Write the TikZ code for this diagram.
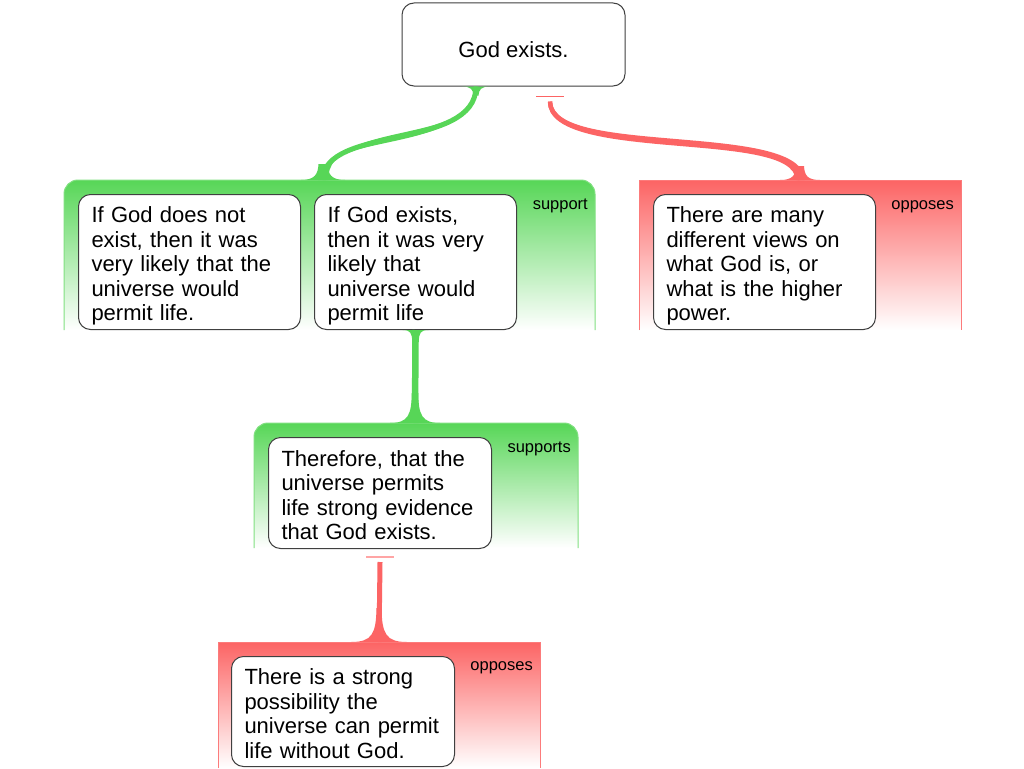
\documentclass[tikz,border=0pt]{standalone}
\usepackage{fontspec}
\setmainfont{Liberation Sans}

\definecolor{supgreen}{RGB}{87,214,87}
\definecolor{oppred}{RGB}{252,100,100}
\definecolor{barred}{RGB}{255,165,165}

\tikzset{
    claim/.style={draw=black!75, line width=1pt, fill=white, rounded corners=12pt,
        anchor=north west, align=left, inner xsep=13pt, inner ysep=0pt,
        font=\fontsize{22}{24.5}\selectfont,
        execute at begin node={\rule{0pt}{25.5pt}},
        execute at end node={\rule[-6pt]{0pt}{0pt}}},
    topclaim/.style={draw=black!75, line width=1pt, fill=white, rounded corners=12pt,
        font=\fontsize{22}{24.5}\selectfont, text height=25pt, text depth=0pt},
    tag/.style={anchor=base east, inner sep=0pt, font=\fontsize{16.5}{18}\selectfont},
    supband/.style={draw=supgreen!75, line width=1pt, top color=supgreen, bottom color=white, rounded corners=14pt},
    oppband/.style={draw=oppred!85, line width=1pt, top color=oppred, bottom color=white},
    supline/.style={draw=supgreen, line width=6.5pt},
    oppline/.style={draw=oppred, line width=5pt},
}

\begin{document}
\begin{tikzpicture}[x=1pt, y=-1pt]
    \path[use as bounding box, fill=white] (0,0) rectangle (1024,768);

    % bands behind the claims
    \draw[supband] (64,330) -- (64,180) -- (595,180) -- (595,330);
    \draw[oppband] (639,330) -- (639,180) -- (961,180) -- (961,330);
    \draw[supband] (254,548) -- (254,423) -- (578,423) -- (578,548);
    \draw[oppband] (218,768) -- (218,642) -- (540,642) -- (540,768);
    \coordinate (supAtop) at (323,180);
    \coordinate (oppAtop) at (800,180);
    \coordinate (supBtop) at (415,423);
    \coordinate (oppBtop) at (379,642);

    \node[tag] (tagA) at (588,209) {support};
    \node[tag] (tagB) at (954,209) {opposes};
    \node[tag] (tagC) at (571,452) {supports};
    \node[tag] (tagD) at (533,670) {opposes};

    % claims
    \node[topclaim, minimum width=223pt, minimum height=83pt] (god) at (513.5,44.5) {God exists.};
    \node[claim, text width=196pt, minimum height=135pt] (notexist) at (78,194)
        {If God does not\\exist, then it was\\very likely that the\\universe would\\permit life.};
    \node[claim, text width=176pt, minimum height=135pt] (exists) at (314,194)
        {If God exists,\\then it was very\\likely that\\universe would\\permit life};
    \node[claim, text width=196pt, minimum height=135pt] (views) at (653,194)
        {There are many\\different views on\\what God is, or\\what is the higher\\power.};
    \node[claim, text width=197pt, minimum height=111pt] (therefore) at (268,437)
        {Therefore, that the\\universe permits\\life strong evidence\\that God exists.};
    \node[claim, text width=197pt, minimum height=110pt] (possible) at (231,656)
        {There is a strong\\possibility the\\universe can permit\\life without God.};

    % god -> first row, widening towards the band
    \draw[supline, line width=5pt] ([xshift=-37.5pt]god.south) .. controls +(0,64) and +(0,-55) .. (supAtop);
    \fill[supgreen] ([xshift=-39.5pt]god.south) .. controls +(-1,69) and +(0,-49) .. ([xshift=-5pt]supAtop)
        -- ([xshift=5pt]supAtop) .. controls +(0,-61) and +(1,59) .. ([xshift=-35.5pt]god.south) -- cycle;
    \fill[supgreen, shift={([xshift=-37.5pt]god.south)}] (-14,0) .. controls (-5,0) and (-3,3) .. (-2.5,9) -- (2.5,9) .. controls (3,3) and (5,0) .. (14,0) -- cycle;
    \fill[supgreen, shift={(supAtop)}] (-22,0) .. controls (-8,0) and (-5,-6) .. (-4.5,-16) -- (4.5,-16) .. controls (5,-6) and (8,0) .. (22,0) -- cycle;
    \draw[oppred, line width=1.5pt] ([xshift=22.5pt,yshift=-10pt]god.south) -- ++(28,0);
    \draw[oppline, line width=4.5pt] ([xshift=36.5pt,yshift=-15pt]god.south) .. controls +(0,59) and +(0,-55) .. (oppAtop);
    \fill[oppred] ([xshift=34.5pt,yshift=-15pt]god.south) .. controls +(-1,63) and +(0,-51) .. ([xshift=-4.5pt]oppAtop)
        -- ([xshift=4.5pt]oppAtop) .. controls +(0,-59) and +(1,55) .. ([xshift=38.5pt,yshift=-15pt]god.south) -- cycle;
    \fill[oppred, shift={(oppAtop)}] (-20,0) .. controls (-7,0) and (-4.5,-5) .. (-4,-14) -- (4,-14) .. controls (4.5,-5) and (7,0) .. (20,0) -- cycle;

    % second and third row
    \draw[supline] (exists.south) -- (supBtop);
    \fill[supgreen, shift={(exists.south)}] (-13,0) .. controls (-5,0) and (-3.5,3) .. (-3.25,12) -- (3.25,12) .. controls (3.5,3) and (5,0) .. (13,0) -- cycle;
    \fill[supgreen, shift={(supBtop)}] (-25,0) .. controls (-7,0) and (-3.5,-8) .. (-3.25,-30) -- (3.25,-30) .. controls (3.5,-8) and (7,0) .. (25,0) -- cycle;
    \draw[barred, line width=2pt] ([xshift=-14pt,yshift=-8pt]therefore.south) -- ++(28,0);
    \draw[oppline] ([yshift=-13pt]therefore.south) -- (oppBtop);
    \fill[oppred, shift={(oppBtop)}] (-28,0) .. controls (-7,0) and (-3,-8) .. (-2.5,-34) -- (2.5,-34) .. controls (3,-8) and (7,0) .. (28,0) -- cycle;
\end{tikzpicture}
\end{document}
